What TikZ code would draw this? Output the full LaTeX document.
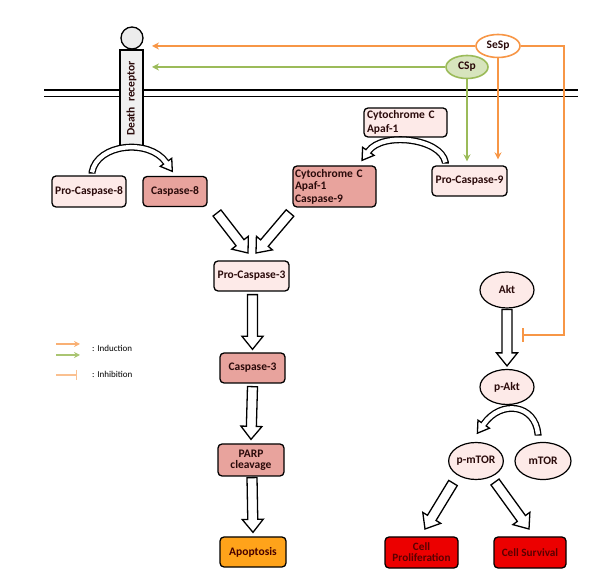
\documentclass[tikz,border=0pt]{standalone}
\usepackage{fontspec}
\setmainfont{Carlito}
\usetikzlibrary{arrows.meta,calc,shapes.geometric}
\definecolor{lpink}{HTML}{FDEAE8}
\definecolor{salmon}{HTML}{E8A39D}
\definecolor{orng}{HTML}{F79646}
\definecolor{grn}{HTML}{9BBB59}
\definecolor{lgrn}{HTML}{D7E4BD}
\definecolor{apo}{HTML}{FFA31A}
\definecolor{rd}{HTML}{EC0000}
\definecolor{txt}{HTML}{2A0A0A}
\definecolor{rtxt}{HTML}{5A0000}
\newcommand\fatarr[2]{%
  \coordinate (fa-h) at ($(#2)!13pt!(#1)$);
  \filldraw[fat] ($(#1)!5pt!-90:(#2)$) -- ($(fa-h)!5pt!90:(#1)$) -- ($(fa-h)!10.5pt!90:(#1)$) -- (#2) -- ($(fa-h)!10.5pt!-90:(#1)$) -- ($(fa-h)!5pt!-90:(#1)$) -- ($(#1)!5pt!90:(#2)$) -- cycle;}
\newcommand\curvefat[4]{%
  \filldraw[fat] ($(#2)+({#4+90}:7pt)$) -- ($(#2)+(#4:11pt)$) -- ($(#2)+({#4-90}:7pt)$) -- cycle;
  \draw[line width=7pt] ($(#1)+(0,-1.3)$) -- (#1) to[#3] (#2);
  \draw[white, line width=4.4pt] (#1) to[#3] (#2) -- ($(#2)+(#4:1.5pt)$);}
\tikzset{
  box/.style={draw=black, line width=1.3pt, rounded corners=4pt, font=\bfseries\fontsize{11.5}{13}\selectfont, text=txt, inner sep=1pt, align=center},
  lbox/.style={box, fill=lpink},
  sbox/.style={box, fill=salmon},
  ell/.style={ellipse, draw=black, line width=1.2pt, fill=lpink, inner sep=0pt, font=\bfseries\fontsize{11.5}{13}\selectfont, text=txt},
  fat/.style={fill=white, draw=black, line width=1.3pt, line join=miter},
  mem/.style={line width=1.8pt, black},
  oarrow/.style={draw=orng, line width=1.6pt, -{Stealth[length=7pt,width=7pt]}},
  garrow/.style={draw=grn, line width=1.6pt, -{Stealth[length=7pt,width=7pt]}},
  legtext/.style={anchor=west, font=\fontsize{9}{10}\selectfont, text=black, inner sep=0pt}
}
\begin{document}
\begin{tikzpicture}[x=1pt,y=1pt]
\useasboundingbox (0,0) rectangle (600,584);
% membrane
\draw[mem] (44,494) -- (578,494);
\draw[mem] (44,487.5) -- (578,487.5);
% death receptor
\node[draw=black, line width=1.3pt, fill=gray!12, minimum width=23pt, minimum height=97pt, inner sep=0pt] (dr) at (131.5,485.5) {};
\node[circle, draw=black, line width=1.3pt, fill=gray!15, minimum size=22pt, inner sep=0pt] (drc) at (132,546) {};
\node[rotate=90, font=\bfseries\fontsize{11.5}{12}\selectfont, text=txt] (drt) at (dr.center) {Death~~receptor};
% boxes
\node[lbox, minimum width=74pt, minimum height=31pt] (pc8) at (89,392.5) {Pro-Caspase-8};
\node[sbox, minimum width=64pt, minimum height=30pt] (c8) at (175,392.5) {Caspase-8};
\node[lbox, minimum width=83pt, minimum height=29pt, text width=77pt, inner xsep=3pt, align=left, font=\bfseries\fontsize{11.5}{14}\selectfont] (cyt) at (405.5,461.5) {Cytochrome C\\Apaf-1};
\node[lbox, minimum width=75pt, minimum height=30pt] (pc9) at (469.5,403) {Pro-Caspase-9};
\node[sbox, minimum width=83pt, minimum height=41pt, text width=79pt, inner xsep=2pt, align=left, font=\bfseries\fontsize{11.5}{12.5}\selectfont] (cyt9) at (334.5,397.5) {Cytochrome C\\Apaf-1\\Caspase-9};
\node[lbox, minimum width=75pt, minimum height=30pt] (pc3) at (251.5,308) {Pro-Caspase-3};
\node[sbox, minimum width=65pt, minimum height=30pt] (c3) at (252.5,216) {Caspase-3};
\node[sbox, minimum width=66pt, minimum height=32pt, font=\bfseries\fontsize{11.5}{11.5}\selectfont] (parp) at (251,124) {PARP\\cleavage};
\node[box, fill=apo, minimum width=66pt, minimum height=30pt, text=rtxt!80!black] (apo) at (253,32) {Apoptosis};
\node[box, fill=rd, minimum width=73pt, minimum height=31pt, text=rtxt, font=\bfseries\fontsize{11.2}{11}\selectfont] (prol) at (421.5,31.5) {Cell\\Proliferation};
\node[box, fill=rd, minimum width=72pt, minimum height=31pt, text=rtxt, font=\bfseries\fontsize{11.2}{11}\selectfont] (surv) at (530,31.5) {Cell Survival};
% ellipses
\node[ell, minimum width=54pt, minimum height=36pt] (akt) at (507,294) {Akt};
\node[ell, minimum width=54pt, minimum height=35pt] (pakt) at (507,197) {p-Akt};
\node[ell, minimum width=54pt, minimum height=37pt] (pmtor) at (476,123) {p-mTOR};
\node[ell, minimum width=56pt, minimum height=37pt] (mtor) at (543,123) {mTOR};
\node[ellipse, draw=orng, line width=1.6pt, fill=white, minimum width=44pt, minimum height=23pt, inner sep=0pt, font=\bfseries\fontsize{11.5}{12}\selectfont, text=txt] (sesp) at (498,538) {SeSp};
\node[ellipse, draw=grn, line width=1.6pt, fill=lgrn, minimum width=42pt, minimum height=23pt, inner sep=0pt, font=\bfseries\fontsize{11.5}{12}\selectfont, text=txt] (csp) at (467,517) {CSp};
% SeSp and CSp connectors
\coordinate (drtip) at (152,530);
\draw[oarrow] (sesp.west) -- (sesp.west -| drtip);
\draw[garrow] (csp.west) -- (csp.west -| drtip);
\draw[oarrow] (sesp.south) -- ($(sesp.south |- pc9.north)+(0,6)$);
\draw[garrow] (csp.south) -- ($(csp.south |- pc9.north)+(0,4)$);
\coordinate (inh) at (522,249);
\draw[draw=orng, line width=1.6pt, -{Bar[width=14pt]}] (sesp.east) -- (564,538) -- (564,249) -- (inh);
% curved fat arrows
\curvefat{$(pc8.north)+(3,3)$}{$(c8.north)+(-9,13.5)$}{out=80,in=125}{-55}
\curvefat{$(pc9.north west)+(14,3)$}{$(cyt9.north east)+(-8.3,14)$}{out=100,in=55,looseness=0.8}{235}
\curvefat{$(mtor.north)+(-5,7.5)$}{$(pmtor.north)+(7.7,17.7)$}{out=95,in=55,looseness=1.4}{235}
% straight fat arrows
\coordinate (a1s) at (217,371); \coordinate (a1e) at (248,331);
\coordinate (a2s) at (290,371); \coordinate (a2e) at (256,331);
\fatarr{a1s}{a1e}
\fatarr{a2s}{a2e}
\coordinate (a3s) at ($(pc3.south)+(1,-3)$); \coordinate (a3e) at ($(c3.north)+(0,3)$);
\fatarr{a3s}{a3e}
\coordinate (a4s) at ($(c3.south)+(0,-3)$); \coordinate (a4e) at ($(parp.north)+(0,4)$);
\fatarr{a4s}{a4e}
\coordinate (a5s) at ($(parp.south)+(1,-1)$); \coordinate (a5e) at ($(apo.north)+(0,4)$);
\fatarr{a5s}{a5e}
\coordinate (a6s) at ($(akt.south)+(0,-1)$); \coordinate (a6e) at ($(pakt.north)+(0,3)$);
\fatarr{a6s}{a6e}
\coordinate (a7s) at (453,101); \coordinate (a7e) at (425,55);
\fatarr{a7s}{a7e}
\coordinate (a8s) at (495,102); \coordinate (a8e) at (529,55);
\fatarr{a8s}{a8e}
% legend
\coordinate (l1) at (56,240); \coordinate (l1e) at (80,240);
\coordinate (l2) at (56,229); \coordinate (l2e) at (80,229);
\coordinate (l3) at (56,209); \coordinate (l3e) at (77,209);
\draw[draw=orng!75, line width=1.4pt, -{Stealth[length=6pt,width=6pt]}] (l1) -- (l1e);
\draw[draw=grn!85, line width=1.4pt, -{Stealth[length=6pt,width=6pt]}] (l2) -- (l2e);
\draw[draw=orng!60, line width=1.4pt, -{Bar[width=10pt]}] (l3) -- (l3e);
\node[legtext] (lind) at (92,236) {: Induction};
\node[legtext] (linh) at (92,210) {: Inhibition};
\end{tikzpicture}
\end{document}
